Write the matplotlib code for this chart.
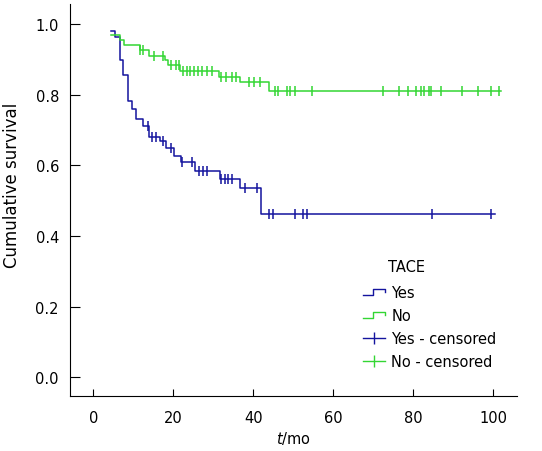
import numpy as np
import matplotlib
matplotlib.use('Agg')
import matplotlib.pyplot as plt
from matplotlib.lines import Line2D
from matplotlib.legend_handler import HandlerBase

# Kaplan-Meier steps (time in months, survival after the step)
yes_times = [4.4, 5.4, 6.8, 7.5, 8.75, 9.6, 10.7, 12.5, 13.9, 16.7, 18.1,
             20.3, 21.9, 25.4, 31.8, 36.8, 42.0]
yes_surv = [0.982, 0.965, 0.900, 0.856, 0.784, 0.760, 0.732, 0.712, 0.681,
            0.670, 0.650, 0.627, 0.611, 0.584, 0.562, 0.535, 0.463]
yes_end = 100.3
yes_cens = [13.6, 14.6, 15.6, 17.5, 19.4, 22.1, 24.6, 26.5, 27.5, 28.4,
            31.9, 32.9, 33.8, 34.7, 38.0, 41.0, 44.0, 45.0, 50.3, 52.3,
            53.4, 84.6, 99.4]

no_times = [4.4, 6.7, 7.7, 11.6, 14.0, 17.9, 18.8, 21.7, 31.5, 36.7, 44.0]
no_surv = [0.970, 0.955, 0.941, 0.927, 0.911, 0.900, 0.886, 0.869, 0.852,
           0.836, 0.810]
no_end = 102.0
no_cens = [11.8, 12.5, 15.3, 17.4, 19.5, 20.6, 21.4, 22.5, 23.5, 24.3, 25.3,
           26.3, 27.3, 28.4, 29.6, 31.9, 33.3, 34.6, 35.8, 39.0, 40.3, 41.7,
           45.4, 46.3, 48.5, 49.3, 50.3, 54.6, 72.3, 76.3, 78.6, 80.7, 82.0,
           82.6, 83.8, 84.4, 86.9, 92.2, 96.1, 99.4, 101.3]

labels = ['Yes', 'No', 'Yes - censored', 'No - censored']
blue = '#14149e'
green = '#33d633'

plt.rcParams['font.family'] = 'DejaVu Sans'
plt.rcParams['font.size'] = 10.5

fig = plt.figure(figsize=(5.42, 4.52), dpi=100)
ax = fig.add_axes([70 / 542, 1 - 397 / 452, 447 / 542, 392 / 452])


def draw_group(times, surv, end, cens, color):
    t = np.array(times + [end])
    s = np.array(surv + [surv[-1]])
    ax.step(t, s, where='post', color=color, lw=1.1)
    idx = np.searchsorted(times, cens, side='right') - 1
    ax.plot(cens, np.array(surv)[idx], ls='none', marker='|', ms=7,
            mew=1.1, color=color)


draw_group(yes_times, yes_surv, yes_end, yes_cens, blue)
draw_group(no_times, no_surv, no_end, no_cens, green)

ax.set_xlim(-5.8, 105.9)
ax.set_ylim(-0.053, 1.0575)
ax.set_xticks(np.arange(0, 101, 20))
ax.set_yticks(np.arange(0, 1.01, 0.2))
ax.set_yticklabels(['%.1f' % v for v in np.arange(0, 1.01, 0.2)])
ax.spines['top'].set_visible(False)
ax.spines['right'].set_visible(False)
ax.tick_params(axis='x', direction='in', length=5, pad=10)
ax.tick_params(axis='y', direction='in', length=7, pad=8)
ax.set_xlabel(r'$\it{t}$/mo', labelpad=3)
ax.set_ylabel('Cumulative survival', fontsize=12)
ax.yaxis.set_label_coords(-0.11, 0.54)


class StepHandler(HandlerBase):
    def create_artists(self, legend, orig_handle, xdescent, ydescent,
                       width, height, fontsize, trans):
        x = np.array([0, 0.45, 0.45, 1, 1]) * width - xdescent
        y = np.array([0.2, 0.2, 0.75, 0.75, 0.45]) * height - ydescent
        line = Line2D(x, y, color=orig_handle.get_color(), lw=1)
        line.set_transform(trans)
        return [line]


h_yes = Line2D([0], [0], color=blue)
h_no = Line2D([0], [0], color=green)
h_yes_c = Line2D([0], [0], color=blue, lw=1, marker='|', ms=8, mew=1)
h_no_c = Line2D([0], [0], color=green, lw=1, marker='|', ms=8, mew=1)

fig.legend([h_yes, h_no, h_yes_c, h_no_c], labels,
           handler_map={h_yes: StepHandler(), h_no: StepHandler()},
           loc='upper left', bbox_to_anchor=(363 / 542, 1 - 286 / 452),
           bbox_transform=fig.transFigure, frameon=False, borderpad=0,
           borderaxespad=0, handlelength=1.5, handletextpad=0.45,
           labelspacing=0.55, numpoints=1)
fig.text(388 / 542, 1 - 268 / 452, 'TACE', va='center', ha='left')

fig.savefig('out.png', dpi=100)
